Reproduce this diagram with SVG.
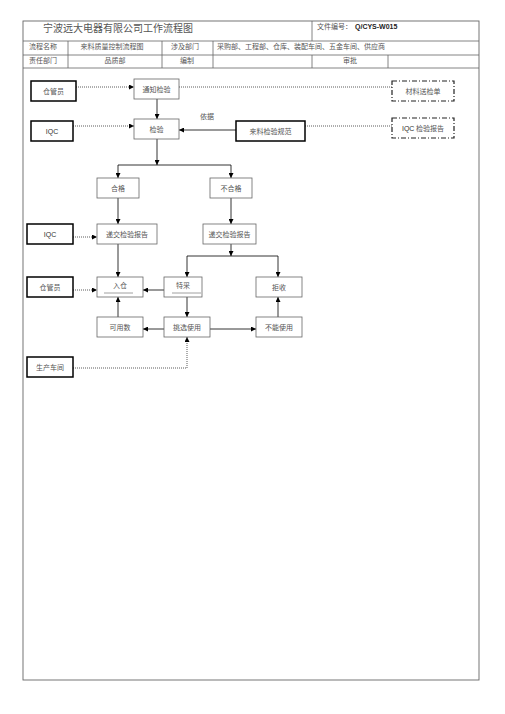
<svg xmlns="http://www.w3.org/2000/svg" width="505" height="714" viewBox="0 0 505 714">
<style>
.frame{fill:none;stroke:#666;stroke-width:0.9}
.grid{stroke:#666;stroke-width:0.8;fill:none}
.box{fill:#fff;stroke:#666;stroke-width:0.8}
.role{fill:#fff;stroke:#000;stroke-width:1.5}
.doc{fill:#fff;stroke:#222;stroke-width:1.2;stroke-dasharray:5,2,1,2}
.t{font-family:"Noto Sans CJK SC","Noto Sans CJK JP",sans-serif;font-size:7px;fill:#555;text-anchor:middle}
.h{font-family:"Noto Sans CJK SC","Noto Sans CJK JP",sans-serif;font-size:7px;fill:#555}
.a{font-family:"Liberation Sans",Arial,sans-serif;font-size:7px;fill:#333;text-anchor:middle}
.ln{stroke:#000;stroke-width:0.8;fill:none}
.dt{stroke:#333;stroke-width:0.8;stroke-dasharray:1,1;fill:none}
.ul{stroke:#888;stroke-width:0.8}
</style>
<defs>
<marker id="ah" viewBox="0 0 10 10" refX="10" refY="5" markerWidth="5" markerHeight="5" orient="auto" markerUnits="userSpaceOnUse">
<path d="M0,0 L10,5 L0,10 z" fill="#000"/>
</marker>
</defs>
<rect width="505" height="714" fill="#fff"/>
<g id="header">
<rect class="frame" x="23" y="21" width="456" height="659"/>
<path class="grid" d="M23,41 H479 M23,55 H479 M23,68 H479 M312,21 V41 M68,41 V68 M162,41 V68 M213,41 V68 M312,55 V68 M388,55 V68"/>
<text x="43" y="32" font-family="Noto Sans CJK SC,sans-serif" font-size="10" fill="#555">宁波远大电器有限公司工作流程图</text>
<text class="h" x="317" y="29">文件编号：</text>
<text x="355" y="29" font-family="Liberation Sans,Arial,sans-serif" font-size="7" font-weight="bold" fill="#222">Q/CYS-W015</text>
<text class="h" x="29" y="49">流程名称</text>
<text class="t" x="112" y="49">来料质量控制流程图</text>
<text class="t" x="185" y="49">涉及部门</text>
<text class="h" x="217" y="49">采购部、工程部、仓库、装配车间、五金车间、供应商</text>
<text class="h" x="29" y="63">责任部门</text>
<text class="t" x="115" y="63">品质部</text>
<text class="t" x="187" y="63">编制</text>
<text class="t" x="350" y="63">审批</text>
</g>
<g id="connectors">
<path class="dt" d="M76,87 H134" marker-end="url(#ah)"/>
<path class="dt" d="M179,87 H392"/>
<path class="dt" d="M73,126 H134" marker-end="url(#ah)"/>
<path class="ln" d="M157,99 V119" marker-end="url(#ah)"/>
<path class="ln" d="M236,130 H179" marker-end="url(#ah)"/>
<path class="dt" d="M305,126 H392"/>
<path class="ln" d="M157,139 V165" marker-end="url(#ah)"/>
<path class="ln" d="M118,165 H231"/>
<path class="ln" d="M118,165 V178" marker-end="url(#ah)"/>
<path class="ln" d="M231,165 V178" marker-end="url(#ah)"/>
<path class="ln" d="M118,198 V224" marker-end="url(#ah)"/>
<path class="ln" d="M231,198 V224" marker-end="url(#ah)"/>
<path class="dt" d="M73,237 H97" marker-end="url(#ah)"/>
<path class="ln" d="M118,244 V277" marker-end="url(#ah)"/>
<path class="ln" d="M231,244 V256" marker-end="url(#ah)"/>
<path class="ln" d="M187,256 H278"/>
<path class="ln" d="M187,256 V277" marker-end="url(#ah)"/>
<path class="ln" d="M278,256 V277" marker-end="url(#ah)"/>
<path class="ln" d="M164,290 H143" marker-end="url(#ah)"/>
<path class="dt" d="M73,290 H97" marker-end="url(#ah)"/>
<path class="ln" d="M187,297 V317" marker-end="url(#ah)"/>
<path class="ln" d="M118,317 V297" marker-end="url(#ah)"/>
<path class="ln" d="M164,329 H143" marker-end="url(#ah)"/>
<path class="ln" d="M210,329 H256" marker-end="url(#ah)"/>
<path class="ln" d="M278,317 V297" marker-end="url(#ah)"/>
<path class="dt" d="M73,368 H187 V337" marker-end="url(#ah)"/>
</g>
<g id="n-cgy1"><rect class="role" x="31" y="81" width="45" height="20"/><text class="t" x="53.5" y="93.5">仓管员</text></g>
<g id="n-tzjy"><rect class="box" x="134" y="79" width="45" height="20"/><text class="t" x="156.5" y="91.5">通知检验</text></g>
<g id="n-clsjd"><rect class="doc" x="392" y="81" width="62" height="20"/><text class="t" x="423" y="93.5">材料送检单</text></g>
<g id="n-iqc1"><rect class="role" x="31" y="121" width="42" height="20"/><text class="a" x="52" y="133.5">IQC</text></g>
<g id="n-jy"><rect class="box" x="134" y="119" width="45" height="20"/><text class="t" x="156.5" y="131.5">检验</text></g>
<g id="n-yj"><text class="t" x="207" y="119">依据</text></g>
<g id="n-lljygf"><rect class="role" x="236" y="121" width="69" height="20"/><text class="t" x="270.5" y="133.5">来料检验规范</text></g>
<g id="n-iqcbg"><rect class="doc" x="392" y="118" width="62" height="20"/><text x="423" y="130.5" class="t"><tspan font-family="Liberation Sans,Arial,sans-serif" fill="#333">IQC</tspan> 检验报告</text></g>
<g id="n-hg"><rect class="box" x="97" y="178" width="42" height="20"/><text class="t" x="118" y="190.5">合格</text></g>
<g id="n-bhg"><rect class="box" x="210" y="178" width="42" height="20"/><text class="t" x="231" y="190.5">不合格</text></g>
<g id="n-iqc2"><rect class="role" x="27" y="224" width="46" height="20"/><text class="a" x="50" y="236.5">IQC</text></g>
<g id="n-djbg1"><rect class="box" x="97" y="224" width="60" height="20"/><text class="t" x="127" y="236.5">递交检验报告</text></g>
<g id="n-djbg2"><rect class="box" x="203" y="224" width="53" height="20"/><text class="t" x="229.5" y="236.5">递交检验报告</text></g>
<g id="n-cgy2"><rect class="role" x="27" y="277" width="46" height="20"/><text class="t" x="50" y="289.5">仓管员</text></g>
<g id="n-rc"><rect class="box" x="97" y="277" width="46" height="20"/><text class="t" x="120" y="288">入仓</text><line class="ul" x1="104" y1="293" x2="133" y2="293"/></g>
<g id="n-tc"><rect class="box" x="164" y="277" width="38" height="20"/><text class="t" x="183" y="288">特采</text><line class="ul" x1="172" y1="293" x2="201" y2="293"/></g>
<g id="n-js"><rect class="box" x="256" y="277" width="46" height="20"/><text class="t" x="279" y="289.5">拒收</text></g>
<g id="n-kys"><rect class="box" x="97" y="317" width="46" height="20"/><text class="t" x="120" y="329.5">可用数</text></g>
<g id="n-txsy"><rect class="box" x="164" y="317" width="46" height="20"/><text class="t" x="187" y="329.5">挑选使用</text></g>
<g id="n-bnsy"><rect class="box" x="256" y="317" width="46" height="20"/><text class="t" x="279" y="329.5">不能使用</text></g>
<g id="n-scj"><rect class="role" x="27" y="357" width="46" height="20"/><text class="t" x="50" y="369.5">生产车间</text></g>
</svg>
